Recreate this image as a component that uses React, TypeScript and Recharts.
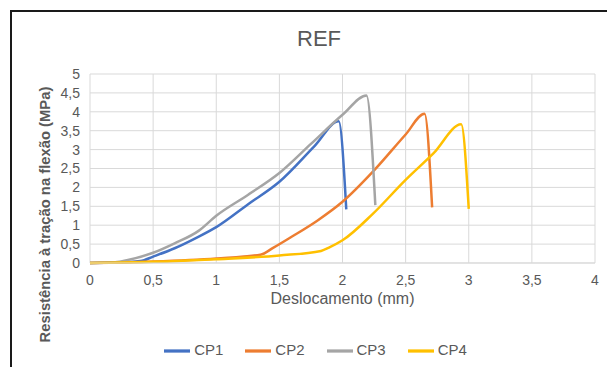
import { CartesianGrid, Label, Legend, Line, LineChart, XAxis, YAxis } from "recharts";

const cp1X = [0, 0.2, 0.4, 0.5, 0.67, 0.85, 1.0, 1.25, 1.5, 1.78, 1.97, 2.03];
const cp1Y = [0, 0.01, 0.05, 0.17, 0.39, 0.68, 0.95, 1.55, 2.15, 3.1, 3.75, 1.42];

const cp2X = [0, 0.5, 1.0, 1.35, 1.45, 1.6, 1.8, 2.0, 2.25, 2.5, 2.65, 2.71];
const cp2Y = [0, 0.04, 0.12, 0.22, 0.4, 0.7, 1.12, 1.62, 2.45, 3.4, 3.95, 1.47];

const cp3X = [0, 0.2, 0.3, 0.5, 0.67, 0.86, 1.0, 1.25, 1.5, 1.75, 2.0, 2.19, 2.26];
const cp3Y = [0, 0.02, 0.08, 0.27, 0.52, 0.85, 1.25, 1.8, 2.38, 3.15, 3.92, 4.43, 1.53];

const cp4X = [0, 0.5, 1.0, 1.5, 1.83, 1.9, 2.0, 2.24, 2.5, 2.72, 2.94, 3.0];
const cp4Y = [0, 0.03, 0.1, 0.2, 0.32, 0.42, 0.6, 1.3, 2.2, 2.9, 3.67, 1.43];

const xTicks = [0, 0.5, 1, 1.5, 2, 2.5, 3, 3.5, 4];
const yTicks = [0, 0.5, 1, 1.5, 2, 2.5, 3, 3.5, 4, 4.5, 5];

const toPoints = (xs: number[], ys: number[]) => xs.map((x, i) => ({ x, y: ys[i] }));

const series = [
  { name: "CP1", color: "#4472C4", data: toPoints(cp1X, cp1Y) },
  { name: "CP2", color: "#ED7D31", data: toPoints(cp2X, cp2Y) },
  { name: "CP3", color: "#A5A5A5", data: toPoints(cp3X, cp3Y) },
  { name: "CP4", color: "#FFC000", data: toPoints(cp4X, cp4Y) },
];

const FONT = "'Liberation Sans', Arial, sans-serif";
const TXT = "#595959";
const fmt = (v: number) => String(v).replace(".", ",");

// rotated y-axis title, centred a little below the plot middle like the original
const YTitle = (props: any) => {
  const vb = props.viewBox || {};
  const x = (vb.x ?? 40) + 5;
  const y = (vb.y ?? 74) + (vb.height ?? 189) / 2 + 46;
  return (
    <text
      x={x}
      y={y}
      transform={`rotate(-90, ${x}, ${y})`}
      textAnchor="middle"
      dominantBaseline="central"
      fill={TXT}
      fontSize={14.8}
      fontWeight="bold"
    >
      Resistência à tração na flexão (MPa)
    </text>
  );
};

export default function App() {
  return (
    <div
      style={{
        position: "absolute",
        left: 0,
        top: 0,
        width: 607,
        height: 367,
        background: "#fff",
        fontFamily: FONT,
        overflow: "hidden",
      }}
    >
      <div
        style={{
          position: "absolute",
          left: 10,
          top: 10,
          width: 620,
          height: 380,
          borderTop: "2px solid #1a1a1a",
          borderLeft: "2px solid #1a1a1a",
        }}
      />
      <div
        style={{
          position: "absolute",
          left: 0,
          top: 26,
          width: 638,
          textAlign: "center",
          fontSize: 22,
          color: TXT,
        }}
      >
        REF
      </div>
      <LineChart
        width={607}
        height={367}
        margin={{ top: 74, right: 12, left: 40, bottom: 74 }}
        style={{ position: "absolute", left: 0, top: 0, fontFamily: FONT }}
      >
        <CartesianGrid stroke="#d9d9d9" strokeWidth={1} />
        <XAxis
          type="number"
          dataKey="x"
          domain={[0, 4]}
          ticks={xTicks}
          interval={0}
          tickFormatter={fmt}
          tick={{ fill: TXT, fontSize: 14 }}
          tickLine={false}
          axisLine={{ stroke: "#d9d9d9" }}
          tickMargin={6}
          height={30}
        >
          <Label
            value="Deslocamento (mm)"
            position="bottom"
            offset={0}
            style={{ fill: TXT, fontSize: 16 }}
          />
        </XAxis>
        <YAxis
          type="number"
          domain={[0, 5]}
          ticks={yTicks}
          interval={0}
          tickFormatter={fmt}
          tick={{ fill: TXT, fontSize: 14 }}
          tickLine={false}
          axisLine={false}
          tickMargin={4}
          width={50}
        >
          <Label content={<YTitle />} />
        </YAxis>
        <Legend
          layout="horizontal"
          verticalAlign="middle"
          align="center"
          iconType="plainline"
          iconSize={26}
          wrapperStyle={{ top: 338, left: 23, width: 607, fontSize: 15 }}
          formatter={(value) => (
            <span style={{ color: TXT, marginRight: 12 }}>{value}</span>
          )}
        />
        {series.map((s) => (
          <Line
            key={s.name}
            name={s.name}
            data={s.data}
            dataKey="y"
            type="monotone"
            stroke={s.color}
            strokeWidth={2.5}
            dot={false}
            isAnimationActive={false}
          />
        ))}
      </LineChart>
    </div>
  );
}
